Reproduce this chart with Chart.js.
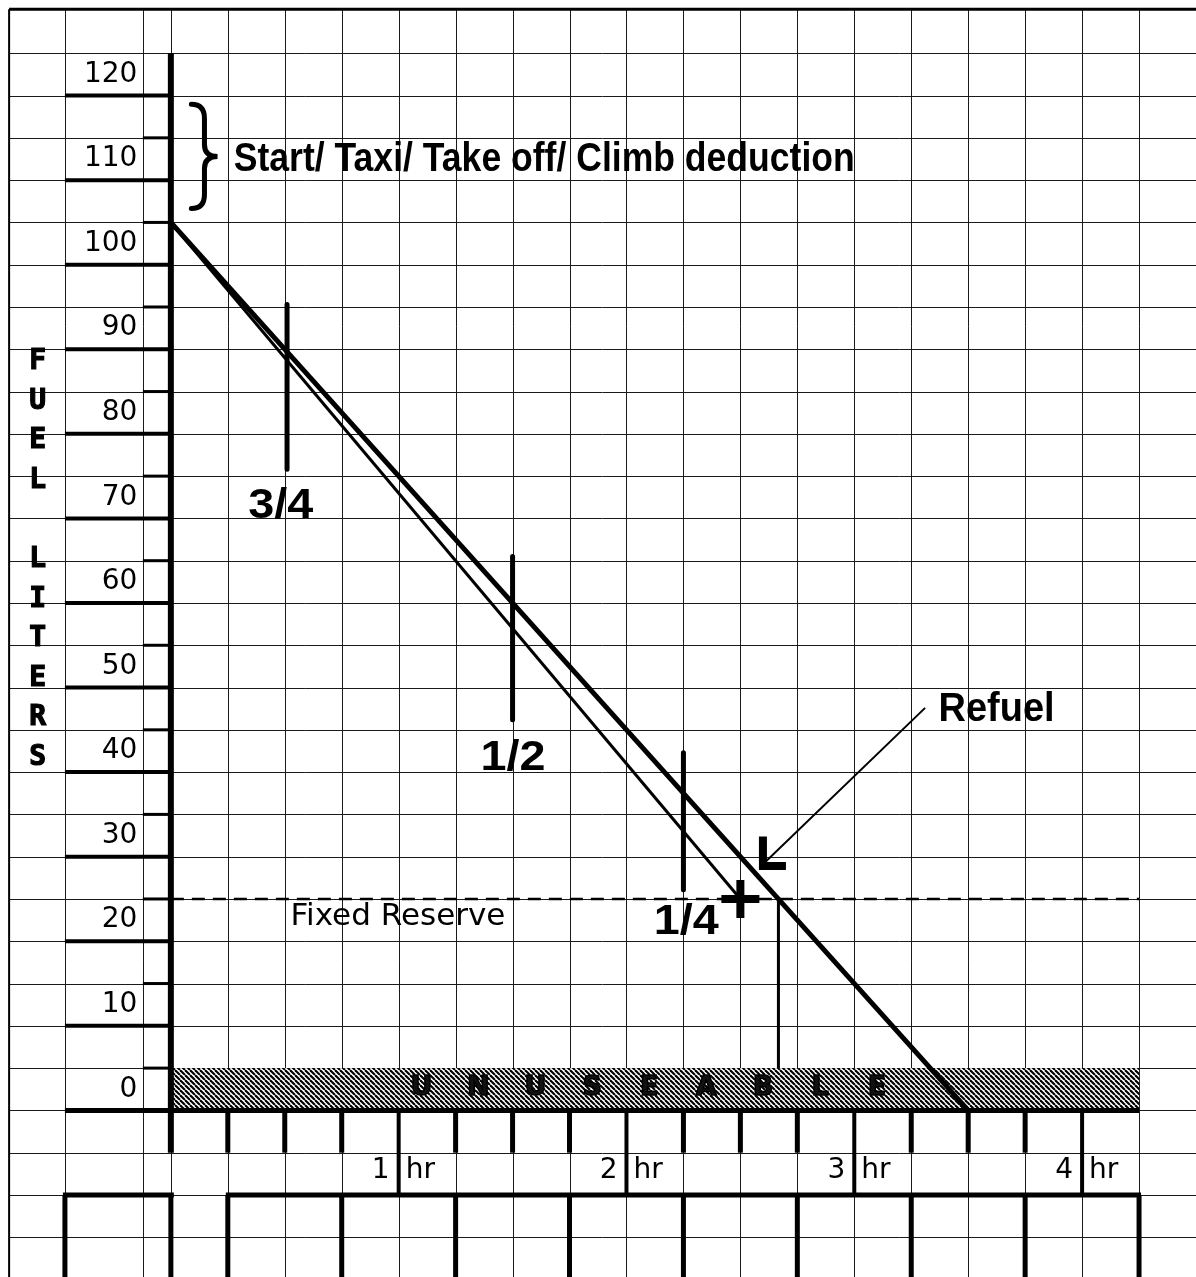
<!DOCTYPE html>
<html lang="en">
<head>
    <meta charset="UTF-8" />
    <title>Fuel graph - litres vs flight time</title>
    <script src="https://cdn.jsdelivr.net/npm/chart.js"></script>
    <style>
        html, body { margin: 0; padding: 0; background: #fff; }
        canvas { display: block; }
    </style>
</head>
<body>
    <canvas id="fuelChart" width="1196" height="1277"></canvas>

    <script>
        // values: x = flight time (hr), y = fuel (litres)
        const literLabels = [120, 110, 100, 90, 80, 70, 60, 50, 40, 30, 20, 10, 0];
        const hourLabels = [1, 2, 3, 4];
        const planFuel = [{ x: 0, y: 100 }, { x: 3.5, y: -5 }];
        const actualFuel = [{ x: 0, y: 100 }, { x: 2.5, y: 20 }];
        const reserveLiters = 20;
        const reserveSpan = [0, 4.25];
        const dropHour = 2.667;
        const refuelPoint = [{ x: 2.5, y: 20 }];
        const fractionLabels = ['3/4', '1/2', '1/4'];
        const fractionHours = [0.51, 1.5, 2.25];
        const fractionTop = [90.3, 60.5, 37.3];
        const fractionBottom = [70.8, 41.2, 21.1];
        const unusableLetters = ['U', 'N', 'U', 'S', 'E', 'A', 'B', 'L', 'E'];
        const unusableHours = [1.1, 1.35, 1.6, 1.85, 2.1, 2.35, 2.6, 2.85, 3.1];
        const axisLetters = ['F', 'U', 'E', 'L', '', 'L', 'I', 'T', 'E', 'R', 'S'];

        // left hand columns of the sheet (in hours, left of the zero line)
        const colOuter = -0.465;
        const colInner = -0.123;
        const colBorder = -0.71;

        function fitText(ctx, text, x, y, width, font) {
            ctx.font = font;
            const w = ctx.measureText(text).width;
            ctx.save();
            ctx.translate(x, y);
            ctx.scale(width / w, 1);
            ctx.textAlign = 'left';
            ctx.fillText(text, 0, 0);
            ctx.restore();
        }

        function makeHatch() {
            const s = 5;
            const c = document.createElement('canvas');
            c.width = s; c.height = s;
            const g = c.getContext('2d');
            g.fillStyle = '#fff';
            g.fillRect(0, 0, s, s);
            g.strokeStyle = '#000';
            g.lineWidth = 2.1;
            for (let k = -1; k <= 1; k++) {
                g.beginPath();
                g.moveTo(k * s, 0);
                g.lineTo(k * s + s, s);
                g.stroke();
            }
            return c;
        }

        const paperPlugin = {
            id: 'paper',
            beforeDatasetsDraw(chart) {
                const { ctx, scales: { x, y } } = chart;
                const px = v => x.getPixelForValue(v);
                const py = v => y.getPixelForValue(v);
                const line = (x1, y1, x2, y2, w) => {
                    ctx.lineWidth = w;
                    ctx.beginPath();
                    ctx.moveTo(x1, y1);
                    ctx.lineTo(x2, y2);
                    ctx.stroke();
                };
                const snap = v => Math.round(v) + 0.5;
                ctx.save();
                ctx.strokeStyle = '#1a1a1a';
                ctx.lineCap = 'butt';

                // thin grid, 15 minutes by 5 litres
                const top = py(125.2), bottom = chart.height;
                for (let h = 0; h <= 4.5; h += 0.25) {
                    line(snap(px(h)), top, snap(px(h)), bottom, 1);
                }
                [colOuter, colInner].forEach(h => line(snap(px(h)), top, snap(px(h)), bottom, 1));
                for (let l = -25; l <= 120; l += 5) {
                    line(px(colBorder), snap(py(l)), chart.width, snap(py(l)), 1);
                }
                // sheet border
                ctx.strokeStyle = '#000';
                line(px(colBorder), top, chart.width, top, 3);
                line(px(colBorder), top, px(colBorder), bottom, 2);

                // unuseable band
                const pat = ctx.createPattern(makeHatch(), 'repeat');
                ctx.fillStyle = pat;
                ctx.fillRect(px(0), py(0), px(4.25) - px(0), py(-5) - py(0));
                ctx.fillStyle = '#111';
                ctx.lineWidth = 1.5;
                ctx.font = 'bold 27px "DejaVu Sans", sans-serif';
                ctx.textAlign = 'center';
                ctx.textBaseline = 'middle';
                unusableLetters.forEach((c, i) => {
                    ctx.fillText(c, px(unusableHours[i]), py(-2.4));
                    ctx.strokeText(c, px(unusableHours[i]), py(-2.4));
                });
                line(px(colOuter), py(-5), px(4.25), py(-5), 5);

                // fuel axis with its ticks
                for (let l = 115; l > 0; l -= 10) line(px(colOuter), py(l), px(0), py(l), 4);
                for (let l = 0; l <= 110; l += 10) line(px(colInner), py(l), px(0), py(l), 3);
                line(px(0), py(120), px(0), py(-10), 6);

                // time axis ticks
                for (let h = 0.25; h < 4.25; h += 0.25) {
                    if (Number.isInteger(h)) line(px(h), py(-5), px(h), py(-15), 4);
                    else line(px(h), py(-5), px(h), py(-10), 5);
                }

                // boxes under the time axis
                line(px(colOuter) - 2, py(-15), px(0) + 3, py(-15), 5);
                line(px(0.25) - 2, py(-15), px(4.25) + 2, py(-15), 5);
                line(px(colOuter), py(-15), px(colOuter), bottom, 5);
                line(px(0), py(-15), px(0), bottom, 5);
                for (let h = 0.25; h <= 4.25; h += 0.5) line(px(h), py(-15), px(h), bottom, 5);
                ctx.restore();
            },
            afterDatasetsDraw(chart) {
                const { ctx, scales: { x, y } } = chart;
                const px = v => x.getPixelForValue(v);
                const py = v => y.getPixelForValue(v);
                ctx.save();
                ctx.fillStyle = '#000';
                ctx.strokeStyle = '#000';
                ctx.textBaseline = 'middle';

                // litre numbers sit in the cell under their tick
                ctx.font = '28px "DejaVu Sans", sans-serif';
                ctx.textAlign = 'right';
                literLabels.forEach(l => ctx.fillText(String(l), px(-0.147), py(l - 2.5)));

                // hour numbers
                hourLabels.forEach(h => {
                    ctx.textAlign = 'right';
                    ctx.fillText(String(h), px(h) - 9, py(-12.1));
                    ctx.textAlign = 'left';
                    ctx.fillText('hr', px(h) + 7, py(-12.1));
                });

                // vertical axis title
                ctx.font = 'bold 28px "DejaVu Sans Mono", monospace';
                ctx.textAlign = 'center';
                ctx.lineWidth = 1.2;
                axisLetters.forEach((c, i) => {
                    ctx.fillText(c, px(-0.585), py(83.5 - 4.68 * i));
                    ctx.strokeText(c, px(-0.585), py(83.5 - 4.68 * i));
                });

                // fraction captions
                const capFont = 'bold 43px "Liberation Sans", Arial, sans-serif';
                const capY = [66.5, 36.7, 17.3];
                const capX = [0.48, 1.5, 2.26];
                fractionLabels.forEach((t, i) => fitText(ctx, t, px(capX[i]) - 32, py(capY[i]), 65, capFont));

                // start/taxi deduction brace and note
                const bt = py(114.2), bb = py(101.4), bm = (bt + bb) / 2;
                const xl = px(0.09), xr = px(0.205), xm = (xl + xr) / 2;
                ctx.lineWidth = 5;
                ctx.lineCap = 'round';
                ctx.beginPath();
                ctx.moveTo(xl, bt + 2);
                ctx.quadraticCurveTo(xm, bt + 2, xm, bt + 16);
                ctx.lineTo(xm, bm - 12);
                ctx.quadraticCurveTo(xm, bm, xr, bm);
                ctx.quadraticCurveTo(xm, bm, xm, bm + 12);
                ctx.lineTo(xm, bb - 16);
                ctx.quadraticCurveTo(xm, bb - 2, xl, bb - 2);
                ctx.stroke();
                fitText(ctx, 'Start/ Taxi/ Take off/ Climb deduction', px(0.276), py(107.4), 621,
                    'bold 40px "Liberation Sans Narrow", "Liberation Sans", Arial, sans-serif');

                // fixed reserve caption
                fitText(ctx, 'Fixed Reserve', px(0.525), py(17.9), 215, '31px "DejaVu Sans", sans-serif');

                // refuel pointer
                fitText(ctx, 'Refuel', px(3.37), py(42.4), 116,
                    'bold 40px "Liberation Sans Narrow", "Liberation Sans", Arial, sans-serif');
                ctx.lineCap = 'butt';
                ctx.lineWidth = 2;
                ctx.beginPath();
                ctx.moveTo(px(3.311), py(42.6));
                ctx.lineTo(px(2.614), py(24.5));
                ctx.stroke();
                ctx.lineWidth = 8;
                ctx.lineJoin = 'miter';
                ctx.beginPath();
                ctx.moveTo(px(2.599), py(27.4));
                ctx.lineTo(px(2.599), py(23.9));
                ctx.lineTo(px(2.70), py(23.9));
                ctx.stroke();
                ctx.restore();
            }
        };

        const ctx = document.getElementById('fuelChart').getContext('2d');
        const markerSets = fractionHours.map((h, i) => ({
            label: fractionLabels[i],
            data: [{ x: h, y: fractionTop[i] }, { x: h, y: fractionBottom[i] }],
            borderColor: '#000',
            borderWidth: 5,
            borderCapStyle: 'round',
            showLine: true
        }));

        const fuelChart = new Chart(ctx, {
            type: 'scatter',
            data: {
                datasets: [
                    {
                        label: 'Refuel',
                        data: refuelPoint,
                        pointStyle: 'cross',
                        pointRadius: 19,
                        pointBorderWidth: 8,
                        borderColor: '#000',
                        backgroundColor: '#000'
                    },
                    {
                        label: 'Planned burn',
                        data: planFuel,
                        borderColor: '#000',
                        borderWidth: 5,
                        showLine: true
                    },
                    {
                        label: 'Actual burn',
                        data: actualFuel,
                        borderColor: '#000',
                        borderWidth: 3,
                        showLine: true
                    },
                    {
                        label: 'Fixed reserve',
                        data: reserveSpan.map(h => ({ x: h, y: reserveLiters })),
                        borderColor: '#000',
                        borderWidth: 2.5,
                        borderDash: [13, 8],
                        showLine: true
                    },
                    {
                        label: 'Reserve drop',
                        data: [{ x: dropHour, y: reserveLiters }, { x: dropHour, y: 0 }],
                        borderColor: '#000',
                        borderWidth: 3,
                        showLine: true
                    },
                    ...markerSets
                ]
            },
            options: {
                responsive: false,
                animation: false,
                layout: { padding: 0, autoPadding: false },
                elements: {
                    point: { radius: 0, hoverRadius: 0 },
                    line: { tension: 0 }
                },
                scales: {
                    x: { type: 'linear', min: -0.75, max: 4.5, display: false },
                    y: { type: 'linear', min: -24.7, max: 126.3, display: false }
                },
                plugins: {
                    legend: { display: false },
                    tooltip: { enabled: false }
                }
            },
            plugins: [paperPlugin]
        });
    </script>
</body>
</html>
